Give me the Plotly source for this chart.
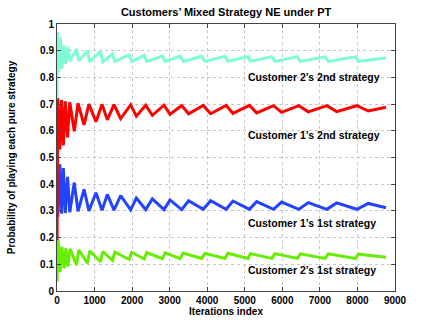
import plotly.graph_objects as go

# iteration index of each zigzag vertex
iters_c1 = [0, 20, 75, 120, 169, 220, 280, 340, 460, 560, 720, 850, 1038, 1200, 1340, 1518,
            1695, 1961, 2112, 2361, 2538, 2849, 3009, 3320, 3505, 3895, 4090, 4505, 4685, 5125,
            5315, 5765, 5980, 6440, 6691, 7185, 7446, 7985, 8288, 8759]
c1_first = [0.30, 0.278, 0.475, 0.29, 0.46, 0.292, 0.428, 0.295, 0.406, 0.298, 0.381, 0.300,
            0.368, 0.302, 0.362, 0.303, 0.357, 0.304, 0.348, 0.305, 0.345, 0.305, 0.341, 0.305,
            0.338, 0.306, 0.338, 0.306, 0.337, 0.306, 0.335, 0.306, 0.333, 0.306, 0.331, 0.306,
            0.330, 0.306, 0.328, 0.312]
c1_second = [0.17, 0.722, 0.53, 0.715, 0.545, 0.71, 0.575, 0.707, 0.598, 0.703, 0.622, 0.70,
             0.634, 0.699, 0.641, 0.698, 0.646, 0.697, 0.655, 0.696, 0.658, 0.696, 0.662, 0.695,
             0.664, 0.695, 0.664, 0.695, 0.665, 0.695, 0.667, 0.694, 0.669, 0.694, 0.671, 0.694,
             0.672, 0.694, 0.674, 0.688]

iters_c2_first = [0, 30, 85, 130, 190, 235, 290, 345, 520, 580, 810, 870, 1160, 1220, 1480, 1540,
                  1920, 1990, 2320, 2390, 2805, 2880, 3280, 3363, 3852, 3940, 4470, 4550, 5090,
                  5150, 5720, 5804, 6400, 6480, 7140, 7223, 7940, 8030, 8759]
c2_first = [0.035, 0.19, 0.072, 0.166, 0.085, 0.16, 0.091, 0.158, 0.097, 0.154, 0.104, 0.15,
            0.11, 0.148, 0.114, 0.146, 0.118, 0.145, 0.12, 0.144, 0.121, 0.143, 0.121, 0.142,
            0.122, 0.141, 0.122, 0.141, 0.122, 0.140, 0.122, 0.140, 0.122, 0.139, 0.122, 0.139,
            0.122, 0.138, 0.126]

iters_c2_second = [0, 10, 45, 85, 130, 190, 235, 290, 345, 520, 580, 810, 870, 1160, 1220, 1480,
                   1540, 1920, 1990, 2320, 2390, 2805, 2880, 3280, 3363, 3852, 3940, 4470, 4550,
                   5090, 5150, 5720, 5804, 6400, 6480, 7140, 7223, 7940, 8030, 8759]
c2_second = [0.72, 0.97, 0.82, 0.95, 0.833, 0.92, 0.851, 0.914, 0.86, 0.907, 0.862, 0.90, 0.858,
             0.898, 0.858, 0.888, 0.86, 0.884, 0.86, 0.882, 0.86, 0.880, 0.86, 0.880, 0.86, 0.879,
             0.86, 0.879, 0.86, 0.878, 0.86, 0.878, 0.86, 0.878, 0.86, 0.877, 0.86, 0.877, 0.86,
             0.874]

labels = ["Customer 2’s 2nd strategy", "Customer 1’s 2nd strategy",
          "Customer 1’s 1st strategy", "Customer 2’s 1st strategy"]
label_y = [0.80, 0.584, 0.254, 0.079]

FONT = "Liberation Sans, Arial, Helvetica, sans-serif"

fig = go.Figure()
fig.add_trace(go.Scatter(x=iters_c2_second, y=c2_second, mode="lines",
                         line=dict(color="#7dfcd6", width=3)))
fig.add_trace(go.Scatter(x=iters_c1, y=c1_first, mode="lines",
                         line=dict(color="#2244ff", width=3)))
fig.add_trace(go.Scatter(x=iters_c1, y=c1_second, mode="lines",
                         line=dict(color="#ff0000", width=3)))
fig.add_trace(go.Scatter(x=iters_c2_first, y=c2_first, mode="lines",
                         line=dict(color="#66ee00", width=3)))

for txt, yy in zip(labels, label_y):
    fig.add_annotation(x=5030, y=yy, text=f"<b>{txt}</b>", showarrow=False,
                       xanchor="left", yanchor="middle",
                       font=dict(family=FONT, size=10.5, color="black"))

axis_style = dict(
    showline=True, linecolor="#444444", linewidth=1, mirror="ticks",
    ticks="inside", ticklen=4, tickcolor="#444444",
    showgrid=True, gridcolor="#c8c8c8", griddash="dot", gridwidth=1,
    zeroline=False, automargin=False,
    tickfont=dict(family=FONT, size=10, color="black", weight="bold"),
)

fig.update_layout(
    width=436, height=327,
    margin=dict(l=57, r=41, t=24, b=36),
    paper_bgcolor="white", plot_bgcolor="white",
    showlegend=False,
    title=dict(text="<b>Customers’ Mixed Strategy NE under PT</b>", x=0.5185, xanchor="center",
               y=0.963, yanchor="middle", font=dict(family=FONT, size=11, color="black")),
    xaxis=dict(range=[0, 9000], dtick=1000, tick0=0,
               title=dict(text="<b>Iterations index</b>", standoff=0,
                          font=dict(family=FONT, size=10, color="black")),
               **axis_style),
    yaxis=dict(range=[0, 1], dtick=0.1, tick0=0,
               title=dict(text="<b>Probability of playing each pure strategy</b>", standoff=22,
                          font=dict(family=FONT, size=10, color="black")),
               **axis_style),
)

# the page is photographed at the window's top-left corner, so drop the body margin
fig.write_html("out.html", config={"displayModeBar": False},
               post_script="document.body.style.margin='0';")
